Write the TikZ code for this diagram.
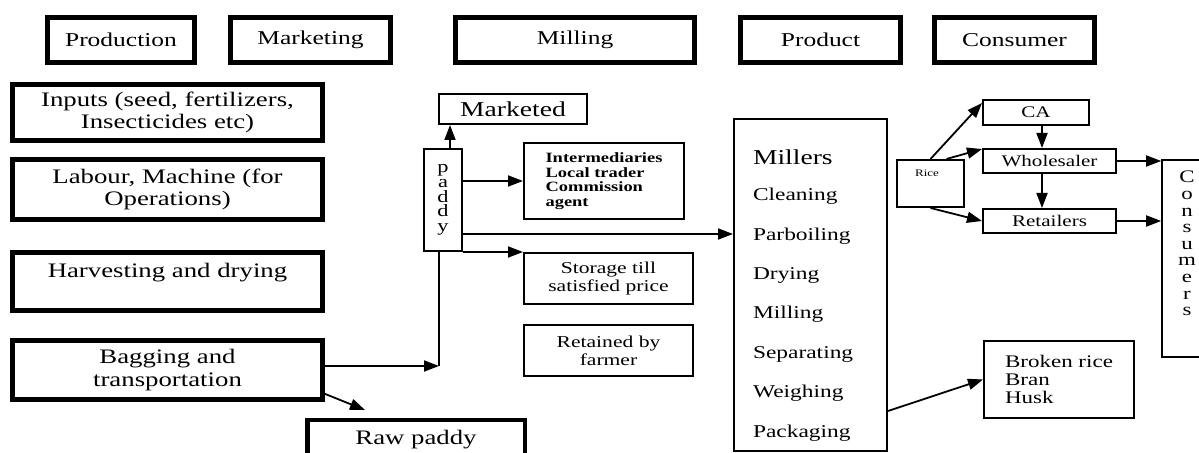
\documentclass[tikz,border=0pt]{standalone}
\usepackage{fontspec}
\setmainfont{Liberation Serif}[FakeStretch=1.3]
\usetikzlibrary{arrows.meta}

\newcommand{\fsz}[2]{\fontsize{#1}{#2}\selectfont}

\begin{document}
\begin{tikzpicture}[x=0.5pt, y=-0.5pt,
  hdr/.style={draw, line width=2.3pt, minimum height=22.5pt, font=\fsz{9.8}{11}},
  stage/.style={draw, line width=2.3pt, minimum width=155pt, align=center, font=\fsz{10.3}{11.2}},
  box/.style={draw, line width=0.8pt, align=center, inner sep=2pt},
  arr/.style={line width=0.9pt, -{Triangle[length=7.5pt,width=5.5pt]}}]
\fill[white] (0,0) rectangle (1199,453); % background
\clip (0,0) rectangle (1199,453);

% headers
\node[hdr, minimum width=73.5pt] (prod) at (121,40) {Production};
\node[hdr, minimum width=80pt] (mkt) at (310.5,40) {Marketing};
\node[hdr, minimum width=119.5pt] (mill) at (575,40) {Milling};
\node[hdr, minimum width=80pt] (prdt) at (820.5,40) {Product};
\node[hdr, minimum width=80pt] (cons) at (1014.5,40) {Consumer};

% production
\node[stage, minimum height=28pt] (inputs) at (167.5,112.5) {Inputs (seed, fertilizers,\\ Insecticides etc)};
\node[stage, minimum height=30pt] (labour) at (167.5,189.5) {Labour, Machine (for\\ Operations)};
\node[stage, minimum height=29pt] (harv) at (167.5,281.5) {};
\node[font=\fsz{10.3}{11.2}] (harvtxt) at (167.5,273) {Harvesting and drying};
\node[stage, minimum height=29.5pt] (bag) at (167.5,370) {Bagging and\\ transportation};
\node[stage, minimum width=108.8pt, minimum height=20pt] (raw) at (416,440) {Raw paddy};

% marketing
\node[box, minimum width=19.2pt, minimum height=51.2pt, font=\fsz{8.6}{7.3}] (paddy) at (443,200) {p\\a\\d\\d\\y};
\node[box, minimum width=74pt, minimum height=15.2pt, font=\fsz{10.6}{12}] (mkted) at (513,109) {Marketed};
\node[box, minimum width=80.2pt, minimum height=38.2pt, align=left, font=\bfseries\fsz{7.1}{7.25}] (inter) at (604,181) {Intermediaries\\Local trader\\Commission\\agent};
\node[box, minimum width=84.7pt, minimum height=25.7pt, font=\fsz{8.3}{9}] (store) at (608.5,278.5) {Storage till\\satisfied price};
\node[box, minimum width=84.7pt, minimum height=25.7pt, font=\fsz{8.3}{9}] (retain) at (608.5,350.5) {Retained by\\farmer};

% milling
\node[box, minimum width=76.7pt, minimum height=166.2pt] (millers) at (810.5,285) {};
\node[anchor=west, font=\fsz{10.6}{12}] (mname) at (746,157) {Millers};
\foreach \s [count=\i] in {Cleaning,Parboiling,Drying,Milling,Separating,Weighing,Packaging}
  \node[anchor=west, font=\fsz{9}{10}] (step\i) at (746,157+39.4*\i) {\s};

% product
\node[box, minimum width=33.7pt, minimum height=23.7pt] (rice) at (930.5,183.5) {};
\node[font=\fsz{5}{6}] (ricetxt) at (927,173) {Rice};
\node[box, minimum width=53.2pt, minimum height=12.7pt, font=\fsz{8.1}{9}] (ca) at (1036,112.5) {CA};
\node[box, minimum width=66.7pt, minimum height=12.2pt, font=\fsz{8.1}{9}] (whole) at (1049.5,161) {Wholesaler};
\node[box, minimum width=66.7pt, minimum height=12.2pt, font=\fsz{8.1}{9}] (retail) at (1049.5,221) {Retailers};
\node[box, minimum width=75.2pt, minimum height=38.7pt, align=left, font=\fsz{8.85}{9}] (broken) at (1059,379.5) {Broken rice\\Bran\\Husk};

% consumer
\node[box, minimum width=25pt, minimum height=98.7pt] (consbox) at (1187,258.5) {};
\node[align=center, font=\fsz{8.8}{8.3}] (constxt) at (1187,243.5) {C\\o\\n\\s\\u\\m\\e\\r\\s};

% connectors
\coordinate (jn) at (439,366);
\coordinate (rawtip) at (365,410);
\draw[arr] ([yshift=2pt]bag.east) -- (jn); % bagging to paddy
\draw[line width=0.9pt] (jn) -- (jn |- paddy.south);
\draw[arr] ([yshift=4pt]bag.south east) -- (rawtip); % raw paddy
\draw[arr] ([xshift=3.5pt]paddy.north) -- ([xshift=3.5pt]paddy.north |- mkted.south);
\draw[arr] (paddy.east |- inter.west) -- (inter.west);
\draw[arr] ([yshift=-17pt]paddy.east) -- ([yshift=-17pt]paddy.east -| millers.west); % to millers
\draw[arr] (paddy.south east) -- (paddy.south east -| store.west);
\draw[arr] (rice.north) -- ([yshift=-2pt]ca.north west);
\draw[arr] ([xshift=8pt]rice.north) -- ([yshift=-0.5pt]whole.north west);
\draw[arr] (rice.south) -- (retail.west);
\draw[arr] ([xshift=3pt]ca.south) -- ([xshift=3pt]ca.south |- whole.north);
\draw[arr] ([xshift=3pt]ca.south |- whole.south) -- ([xshift=3pt]ca.south |- retail.north);
\draw[arr] (whole.east) -- (whole.east -| consbox.west);
\draw[arr] (retail.east) -- (retail.east -| consbox.west);
\draw[arr] ([yshift=-63pt]millers.east) -- (broken.west); % by-products
\end{tikzpicture}
\end{document}
